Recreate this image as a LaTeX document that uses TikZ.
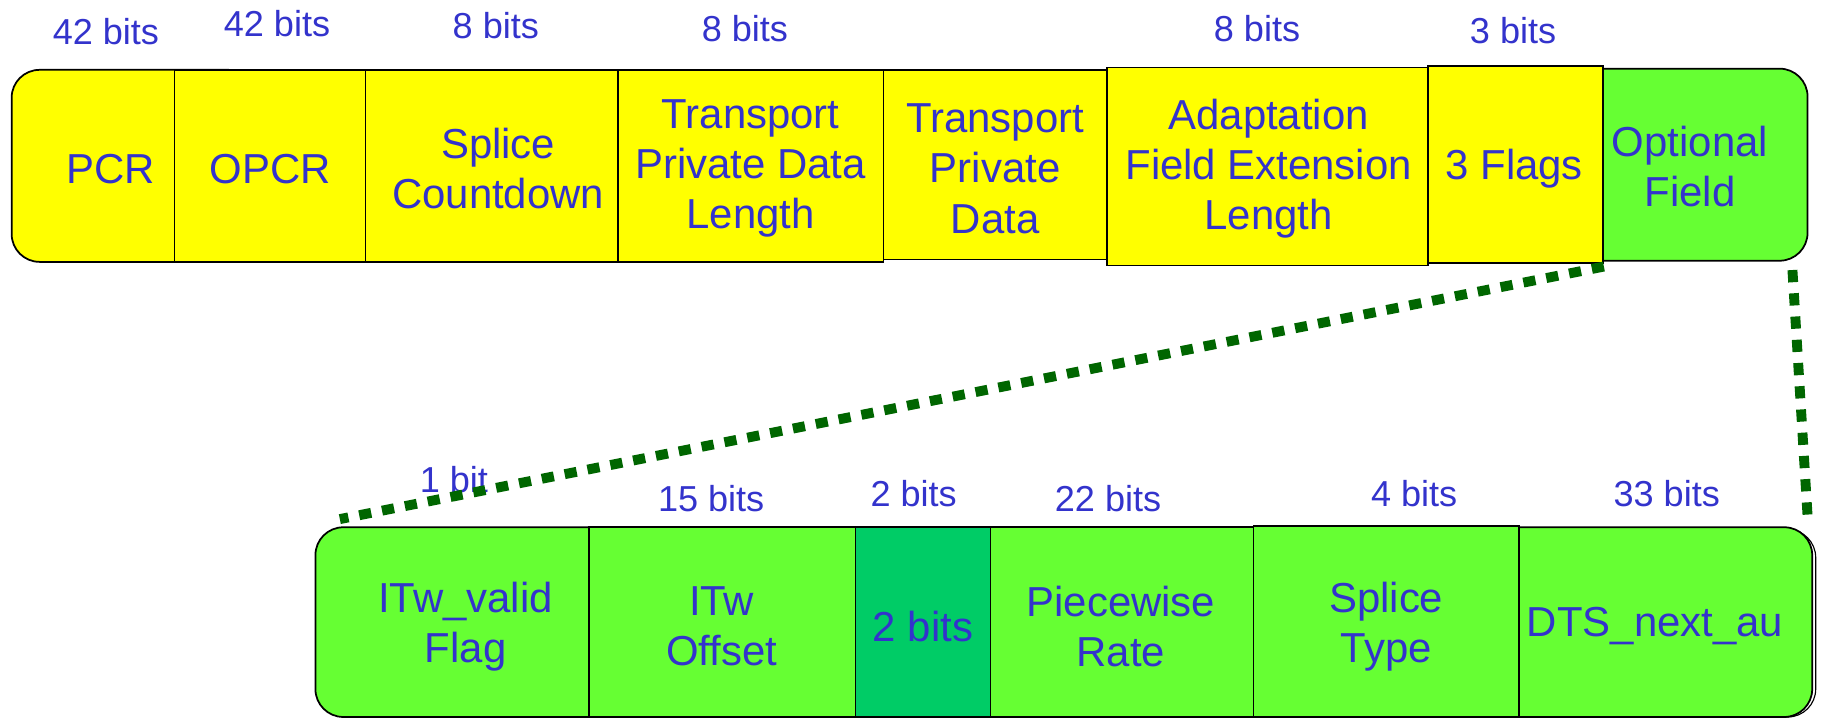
\documentclass[tikz,border=0pt]{standalone}
\usepackage{fontspec}
\setmainfont{Liberation Sans}
\definecolor{ylw}{HTML}{FFFF00}
\definecolor{grn}{HTML}{66FF33}
\definecolor{dgrn}{HTML}{00CC66}
\definecolor{txtc}{HTML}{3333CC}
\definecolor{dotc}{HTML}{006600}
\begin{document}
\begin{tikzpicture}[x=1pt,y=-1pt,
  cell/.style={draw=black, line width=1.5pt},
  endcell/.style={draw=black, line width=1.5pt, rounded corners=24pt},
  lbl/.style={text=txtc, font=\fontsize{31}{34}\selectfont, inner sep=0pt},
  main/.style={text=txtc, font=\fontsize{36}{43}\selectfont, align=center, inner sep=0pt},
  dotline/.style={draw=dotc, line width=8.5pt, dash pattern=on 10.5pt off 9.5pt}]
\useasboundingbox (0,0) rectangle (1568,619);
% top row
\draw[endcell, fill=ylw] (10,60) rectangle (220,225);
\draw[cell, fill=ylw] (150,60) rectangle (314,225);
\draw[cell, fill=ylw] (314,60) rectangle (531,225);
\draw[cell, fill=ylw] (531,60) rectangle (759,225);
\draw[cell, fill=ylw] (759,60) rectangle (951,223);
\draw[cell, fill=ylw] (951,58) rectangle (1227,228);
\draw[endcell, fill=grn] (1320,59) rectangle (1553,224);
\draw[cell, fill=ylw] (1227,57) rectangle (1377,226);
% top texts
\node[main] (pcr) at (95,145) {PCR};
\node[main] (opcr) at (232,145) {OPCR};
\node[main] (splc) at (428,145) {Splice\\Countdown};
\node[main] (tpdl) at (645,145) {Transport\\Private Data\\Length};
\node[main] (tpd) at (855,145) {Transport\\Private\\Data};
\node[main] (afel) at (1090,145) {Adaptation\\Field Extension\\Length};
\node[main] (flags) at (1301,145) {3 Flags};
\node[main] (opt) at (1452,143) {Optional\\Field};
% top labels
\node[lbl] (l1) at (91,27) {42 bits};
\node[lbl] (l2) at (238,20) {42 bits};
\node[lbl] (l3) at (426,22) {8 bits};
\node[lbl] (l4) at (640,25) {8 bits};
\node[lbl] (l5) at (1080,25) {8 bits};
\node[lbl] (l6) at (1300,26) {3 bits};
% bottom row
\draw[draw=black, line width=1pt, rounded corners=24pt] (1260,455) rectangle (1560,616);
\draw[endcell, fill=grn] (1250,453) rectangle (1557,616);
\draw[endcell, fill=grn] (271,453) rectangle (560,616);
\draw[cell, fill=grn] (506,453) rectangle (735,616);
\draw[cell, fill=dgrn] (735,453) rectangle (851,616);
\draw[cell, fill=grn] (851,453) rectangle (1077,616);
\draw[cell, fill=grn] (1077,452) rectangle (1305,616);
% bottom texts
\node[main] (itwv) at (400,538) {ITw\_valid\\Flag};
\node[main] (itwo) at (620,538) {ITw\\Offset};
\node[main] (twob) at (793,538) {2 bits};
\node[main] (pwr) at (963,538) {Piecewise\\Rate};
\node[main] (spt) at (1191,538) {Splice\\Type};
\node[main] (dts) at (1422,538) {DTS\_next\_au};
% bottom labels
\node[lbl] (b1) at (390,412) {1 bit};
\node[lbl] (b2) at (611,428) {15 bits};
\node[lbl] (b3) at (785,424) {2 bits};
\node[lbl] (b4) at (952,428) {22 bits};
\node[lbl] (b5) at (1215,424) {4 bits};
\node[lbl] (b6) at (1432,424) {33 bits};
% dotted connectors
\coordinate (oa) at (1378,229);
\coordinate (ob) at (1540,232);
\coordinate (ia) at (292,446);
\coordinate (ib) at (1553,443);
\draw[dotline] (oa) -- (ia);
\draw[dotline] (ob) -- (ib);
\end{tikzpicture}
\end{document}
